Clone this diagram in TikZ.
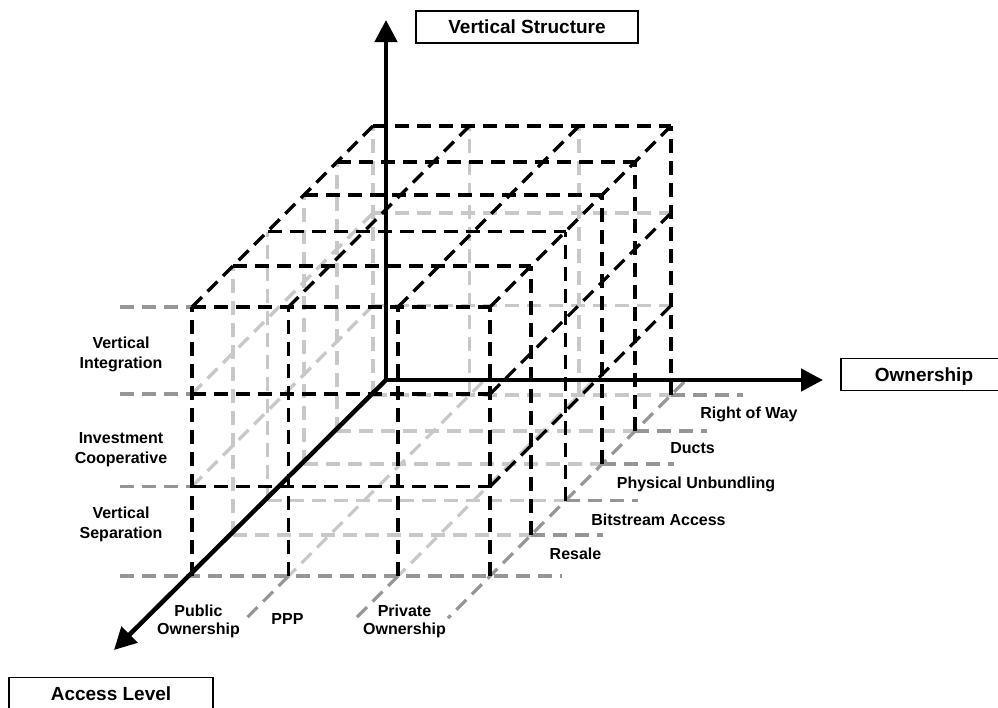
\documentclass[tikz,border=0pt]{standalone}
\usepackage{fontspec}
\setmainfont{Liberation Sans}
\usetikzlibrary{arrows.meta}

\definecolor{hiddengray}{RGB}{200,200,200}
\definecolor{floorgray}{RGB}{150,150,150}

\tikzset{
  gridline/.style={line width=3.2pt, dash pattern=on 14pt off 8pt},
  edgeline/.style={gridline, black},
  hiddenline/.style={gridline, hiddengray},
  floorline/.style={gridline, floorgray},
  axisline/.style={line width=4.5pt, black},
  axistip/.tip={Triangle[length=22pt,width=22pt]},
  caption/.style={draw, line width=1.2pt, inner sep=0pt,
    font=\fontsize{19}{23}\selectfont\bfseries,
    minimum height=32pt, text height=13.7pt, text depth=0pt},
  lab/.style={font=\fontsize{16}{20}\selectfont\bfseries, align=center, inner sep=0pt},
}

\begin{document}
\begin{tikzpicture}[x=1pt, y=-1pt]
\useasboundingbox (0,0) rectangle (998,707);
\clip (0,0) rectangle (998,707);

% the 3 x 3 x 5 block: (column offset, row height, depth offset)
\begin{scope}[shift={(373,395)}, y={(0pt,1pt)}, z={(-1pt,-1pt)}]
  % hidden edges: left face, back face, floor
  \foreach \d in {0,36,69,105.5,140} \draw[hiddenline] (0,0,\d) -- (0,269,\d);
  \foreach \h in {89.5,182} \draw[hiddenline] (0,\h,0) -- (0,\h,181);
  \foreach \w in {96.5,206} \draw[hiddenline] (\w,0,0) -- (\w,269,0);
  \foreach \h in {89.5,182} \draw[hiddenline] (0,\h,0) -- (298,\h,0);
  \foreach \d in {0,36,69,105.5,140} \draw[hiddenline] (0,0,\d) -- (298,0,\d);
  \foreach \w in {96.5,206} \draw[hiddenline] (\w,0,-13) -- (\w,0,181);
  % floor guides running past the block
  \foreach \d in {0,36,69,105.5,140} \draw[floorline] (298,0,\d) -- (370,0,\d);
  \draw[floorline] (-72,0,181) -- (370,0,181);
  \foreach \h in {89.5,182,269} \draw[floorline] (-72,\h,181) -- (0,\h,181);
  \foreach \w in {96.5,206} \draw[floorline] (\w,0,181) -- (\w,0,223);
  \draw[floorline] (298,0,-13) -- (298,0,223);
  % visible edges: top, right and front faces
  \foreach \d in {0,36,69,105.5,140,181} \draw[edgeline] (0,269,\d) -- (298,269,\d);
  \foreach \w in {0,96.5,206,298} \draw[edgeline] (\w,269,0) -- (\w,269,181);
  \foreach \d in {0,36,69,105.5,140,181} \draw[edgeline] (298,0,\d) -- (298,269,\d);
  \foreach \h in {89.5,182} \draw[edgeline] (298,\h,0) -- (298,\h,181);
  \foreach \w in {0,96.5,206} \draw[edgeline] (\w,0,181) -- (\w,269,181);
  \foreach \h in {89.5,182} \draw[edgeline] (0,\h,181) -- (298,\h,181);
\end{scope}

% axes
\coordinate (O) at (386,380);
\coordinate (vtip) at (386,20);
\coordinate (htip) at (823,380);
\coordinate (dtip) at (114,650);
\draw[axisline, axistip-axistip] (vtip) -- (O) -- (htip);
\draw[axisline, line cap=round, -axistip] (O) -- (dtip);

% axis captions
\node[caption, minimum width=222pt] (vs) at (527,27) {Vertical Structure};
\node[caption, minimum width=166pt] (own) at (924,374.5) {Ownership};
\node[caption, minimum width=204pt] (acc) at (111,693.5) {Access Level};

% vertical structure levels
\node[lab, anchor=north] (vi) at (121,337) {Vertical\\Integration};
\node[lab, anchor=north] (ic) at (121,432) {Investment\\Cooperative};
\node[lab, anchor=north] (vsep) at (121,507) {Vertical\\Separation};

% ownership levels
\node[lab, anchor=north, font=\fontsize{16}{18}\selectfont\bfseries] (pub) at (198.5,605) {Public\\Ownership};
\node[lab, anchor=base] (ppp) at (287.5,624.5) {PPP};
\node[lab, anchor=north, font=\fontsize{16}{18}\selectfont\bfseries] (priv) at (404.5,605) {Private\\Ownership};

% access levels
\node[lab, anchor=base] (row) at (749,418.5) {Right of Way};
\node[lab, anchor=base] (duc) at (692.5,453.5) {Ducts};
\node[lab, anchor=base] (phy) at (696,488.5) {Physical Unbundling};
\node[lab, anchor=base] (bit) at (658.5,525.5) {Bitstream Access};
\node[lab, anchor=base] (res) at (575.5,559.5) {Resale};
\end{tikzpicture}
\end{document}
